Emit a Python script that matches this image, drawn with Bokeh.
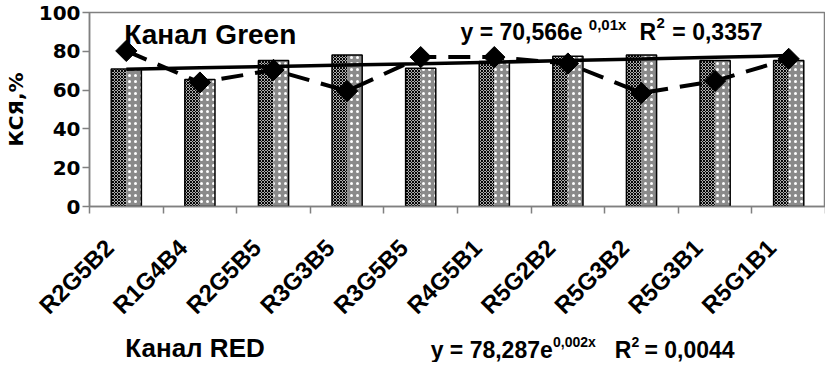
import math
from bokeh.plotting import figure
from bokeh.layouts import column
from bokeh.models import (Range1d, LinearAxis, FixedTicker, Label, ColumnDataSource)
from bokeh.transform import dodge
from bokeh.embed import file_html
from bokeh.resources import INLINE

# ---- data ----
categories = ["R2G5B2", "R1G4B4", "R2G5B5", "R3G3B5", "R3G5B5",
              "R4G5B1", "R5G2B2", "R5G3B2", "R5G3B1", "R5G1B1"]
bar_values = [70.9, 65.5, 75.3, 78.1, 71.2, 74.8, 77.5, 78.1, 75.3, 75.3]
diamond_values = [80.2, 63.9, 70.4, 59.5, 77.0, 77.0, 73.7, 58.5, 64.7, 76.1]
trend_values = [70.8, 71.5, 72.2, 72.9, 73.6, 74.4, 75.2, 76.0, 76.9, 77.8]
y_ticks = [0, 20, 40, 60, 80, 100]
y_title = "КСЯ,%"
title_green = "Канал Green"
title_red = "Канал RED"
eq_green = ["y = 70,566e", "0,01x", "R", "2", "= 0,3357"]
eq_red = ["y = 78,287e", "0,002x", "R", "2", "= 0,0044"]

# ---- layout constants (picture pixels) ----
W = 825
H1, H2 = 332, 30
X0 = 8                                      # canvas left on the picture
FL, FR, FT, FB = 92, 832, 12, 206           # frame edges on the picture
n = len(categories)
centers = [i + 0.5 for i in range(n)]       # category slot centres
bounds = list(range(n + 1))                 # category slot boundaries
label_shift = 0.23                          # rotated labels sit left of slot centre
label_ticks = [c - label_shift for c in centers]


def dx(px):
    return (px - FL) / ((FR - FL) / n)


def dy(py):
    return (FB - py) / ((FB - FT) / 100.0)


src = ColumnDataSource(dict(x=centers, bar=bar_values,
                            dia=diamond_values, trend=trend_values))

p = figure(width=W, height=H1, x_range=Range1d(0, n),
           y_range=Range1d(0, 100), x_axis_location=None,
           output_backend="svg", toolbar_location=None,
           min_border_left=FL - X0, min_border_right=0,
           min_border_top=FT, min_border_bottom=H1 - FB)
p.xgrid.visible = False
p.ygrid.visible = False
p.outline_line_color = "#808080"
p.outline_line_width = 1.5
p.background_fill_color = "white"
p.border_fill_color = "white"

# y axis
ya = p.yaxis[0]
ya.ticker = FixedTicker(ticks=y_ticks)
ya.axis_line_color = "#808080"
ya.axis_line_width = 1.5
ya.major_tick_line_color = "#808080"
ya.major_tick_line_width = 1.5
ya.major_tick_out = 7
ya.major_tick_in = 0
ya.minor_tick_line_color = None
ya.major_label_text_font = "DejaVu Sans"
ya.major_label_text_font_style = "bold"
ya.major_label_text_font_size = "20px"
ya.major_label_text_color = "black"
ya.major_label_standoff = 2
ya.axis_label = y_title
ya.axis_label_text_font = "DejaVu Sans"
ya.axis_label_text_font_style = "bold"
ya.axis_label_text_font_size = "20px"
ya.axis_label_text_color = "black"
ya.axis_label_standoff = 8

# boundary ticks axis
xb = LinearAxis(ticker=FixedTicker(ticks=bounds),
                major_label_overrides={b: "" for b in bounds})
xb.axis_line_color = "#808080"
xb.axis_line_width = 1.5
xb.major_tick_line_color = "#808080"
xb.major_tick_line_width = 1.5
xb.major_tick_out = 7
xb.major_tick_in = 0
xb.minor_tick_line_color = None
xb.major_label_standoff = 0
xb.major_label_text_font_size = "1px"
p.add_layout(xb, "below")

# category label axis
xc = LinearAxis(ticker=FixedTicker(ticks=label_ticks),
                major_label_overrides={t: name for t, name in zip(label_ticks, categories)})
xc.axis_line_color = None
xc.major_tick_line_color = None
xc.minor_tick_line_color = None
xc.major_label_orientation = math.pi / 4
xc.major_label_text_font = "Liberation Sans"
xc.major_label_text_font_style = "bold"
xc.major_label_text_font_size = "24px"
xc.major_label_text_color = "black"
xc.major_label_standoff = 24
p.add_layout(xc, "below")

# bars: textured left half, dotted right half, black outline
bw = 0.41
p.vbar(x=dodge("x", -bw / 4), top="bar", width=bw / 2, source=src,
       fill_color="white", line_color=None,
       hatch_pattern="diagonal_cross", hatch_color="black", hatch_scale=3, hatch_weight=1.2)
p.vbar(x=dodge("x", bw / 4), top="bar", width=bw / 2, source=src,
       fill_color="#8a8a8a", line_color=None,
       hatch_pattern="dot", hatch_color="white", hatch_scale=6, hatch_weight=1.5)
p.vbar(x="x", top="bar", width=bw, source=src, fill_color=None,
       line_color="black", line_width=1.5)

# trend line
p.line(x="x", y="trend", source=src, line_color="black", line_width=3.5)
# dashed series with diamonds
p.line(x="x", y="dia", source=src, line_color="black", line_width=4, line_dash="22 12")
p.scatter(x="x", y="dia", source=src, marker="square", angle=math.pi / 4, size=15,
          fill_color="black", line_color="black")


def lab(fig, text, x, y, size, font="Liberation Sans"):
    fig.add_layout(Label(x=x, y=y, text=text,
                         text_font=font, text_font_style="bold",
                         text_font_size=f"{size}px", text_color="black",
                         text_align="left", text_baseline="middle"))


lab(p, title_green, dx(127), dy(34), 28)
lab(p, eq_green[0], dx(465), dy(31), 23)
lab(p, eq_green[1], dx(594), dy(24), 15)
lab(p, eq_green[2], dx(645), dy(31), 23)
lab(p, eq_green[3], dx(662), dy(22), 15)
lab(p, eq_green[4], dx(678), dy(31), 23)

# strip below the chart for the red-channel caption; its frame lines up with
# the chart frame, so its x range is given in picture pixels of that frame
p2 = figure(width=W, height=H2, x_range=Range1d(FL, FR),
            y_range=Range1d(H1 + H2, H1), x_axis_location=None, y_axis_location=None,
            output_backend="svg", toolbar_location=None,
            min_border=0, min_border_left=0, min_border_right=0,
            min_border_top=0, min_border_bottom=0)
p2.xgrid.visible = False
p2.ygrid.visible = False
p2.outline_line_color = None
p2.background_fill_color = "white"
p2.border_fill_color = "white"

lab(p2, title_red, 128, 347, 26)
lab(p2, eq_red[0], 435, 349, 23)
lab(p2, eq_red[1], 558, 341, 14)
lab(p2, eq_red[2], 620, 349, 23)
lab(p2, eq_red[3], 637, 341, 14)
lab(p2, eq_red[4], 650, 349, 23)

layout = column(p, p2, spacing=0)
open("out.html", "w").write(file_html(layout, INLINE))
